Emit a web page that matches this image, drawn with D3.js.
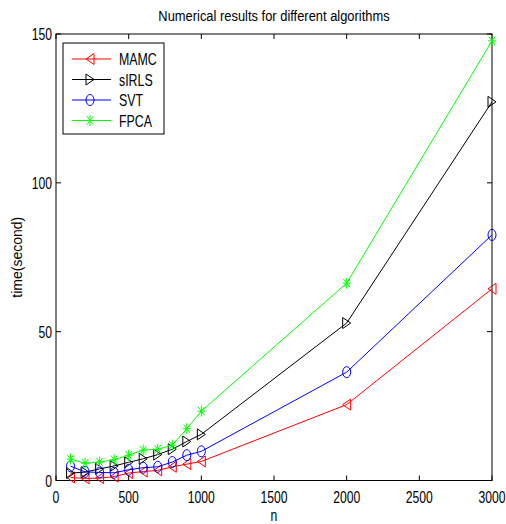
<!DOCTYPE html>
<html>
<head>
<meta charset="utf-8">
<script src="https://cdn.jsdelivr.net/npm/d3@7"></script>
<style>
  html, body { margin: 0; padding: 0; background: #fff; }
  svg { display: block; font-family: "Liberation Sans", Arial, sans-serif; }
</style>
</head>
<body>
<svg id="chart" width="506" height="524"></svg>
<script>
// Problem size n
const sizes = [100, 200, 300, 400, 500, 600, 700, 800, 900, 1000, 2000, 3000];

// Running time (seconds) per algorithm
const mamc  = [1.0, 0.7, 0.8, 1.3, 2.5, 3.0, 3.4, 4.6, 5.5, 6.4, 25.5, 64.4];
const sirls = [2.5, 2.8, 3.9, 4.9, 6.1, 7.3, 8.7, 10.5, 13.1, 15.5, 52.9, 127.2];
const svt   = [4.8, 2.9, 2.7, 2.6, 3.6, 4.3, 4.6, 6.2, 8.5, 9.8, 36.4, 82.5];
const fpca  = [7.2, 5.8, 6.2, 7.0, 8.5, 10.2, 10.5, 11.9, 17.4, 23.3, 66.3, 147.7];

const seriesNames  = ["MAMC", "sIRLS", "SVT", "FPCA"];
const seriesColors = ["#ff0000", "#000000", "#0000ff", "#00ff00"];
const seriesMarks  = ["triLeft", "triRight", "circle", "star"];

const xTicks = [0, 500, 1000, 1500, 2000, 2500, 3000];
const yTicks = [0, 50, 100, 150];

const titleText  = "Numerical results for different algorithms";
const xLabelText = "n";
const yLabelText = "time(second)";

const series = [mamc, sirls, svt, fpca].map((vals, i) => ({
  name: seriesNames[i], color: seriesColors[i], mark: seriesMarks[i],
  points: sizes.map((n, j) => ({ n, t: vals[j] }))
}));

const svg = d3.select("#chart");
const plotL = 56, plotR = 492, plotT = 34, plotB = 480.5;

const x = d3.scaleLinear().domain([0, 3000]).range([plotL, plotR]);
const y = d3.scaleLinear().domain([0, 150]).range([plotB, plotT]);

// Text is drawn horizontally condensed
function label(g, tx, ty, str, size, sx, anchor, rotate) {
  return g.append("text")
    .attr("transform", `translate(${tx},${ty})` + (rotate ? ` rotate(${rotate})` : "") + ` scale(${sx},1)`)
    .attr("text-anchor", anchor)
    .attr("font-size", size)
    .attr("fill", "#000")
    .text(str);
}

// Plot frame
svg.append("rect")
  .attr("x", plotL).attr("y", plotT)
  .attr("width", plotR - plotL).attr("height", plotB - plotT)
  .attr("fill", "#fff").attr("stroke", "#000").attr("stroke-width", 1);

const tickLen = 5;
const ticks = svg.append("g").attr("stroke", "#000").attr("stroke-width", 1);
xTicks.forEach(v => {
  ticks.append("line").attr("x1", x(v)).attr("x2", x(v)).attr("y1", plotB).attr("y2", plotB - tickLen);
  ticks.append("line").attr("x1", x(v)).attr("x2", x(v)).attr("y1", plotT).attr("y2", plotT + tickLen);
});
yTicks.forEach(v => {
  ticks.append("line").attr("x1", plotL).attr("x2", plotL + tickLen).attr("y1", y(v)).attr("y2", y(v));
  ticks.append("line").attr("x1", plotR).attr("x2", plotR - tickLen).attr("y1", y(v)).attr("y2", y(v));
});

const texts = svg.append("g");
xTicks.forEach(v => label(texts, x(v), 503, String(v), 16, 0.76, "middle"));
yTicks.forEach(v => label(texts, plotL - 4, y(v) + 6, String(v), 16, 0.76, "end"));

label(texts, (plotL + plotR) / 2, 21, titleText, 14.5, 0.89, "middle");
label(texts, (plotL + plotR) / 2, 521, xLabelText, 16, 0.76, "middle");
label(texts, 22, (plotT + plotB) / 2, yLabelText, 14, 1.0, "middle", -90);

// Marker shapes
function drawMarker(g, kind, cx, cy, color) {
  const w = 4, h = 5.5;
  if (kind === "circle") {
    g.append("ellipse").attr("cx", cx).attr("cy", cy).attr("rx", w).attr("ry", h)
      .attr("fill", "none").attr("stroke", color).attr("stroke-width", 1);
  } else if (kind === "triLeft") {
    g.append("path").attr("d", `M${cx - w},${cy} L${cx + w},${cy - h} L${cx + w},${cy + h} Z`)
      .attr("fill", "none").attr("stroke", color).attr("stroke-width", 1);
  } else if (kind === "triRight") {
    g.append("path").attr("d", `M${cx + w},${cy} L${cx - w},${cy - h} L${cx - w},${cy + h} Z`)
      .attr("fill", "none").attr("stroke", color).attr("stroke-width", 1);
  } else if (kind === "star") {
    const a = 3.2, b = 4.2;
    g.append("path").attr("d",
      `M${cx - w},${cy} L${cx + w},${cy} M${cx},${cy - h} L${cx},${cy + h} ` +
      `M${cx - a},${cy - b} L${cx + a},${cy + b} M${cx - a},${cy + b} L${cx + a},${cy - b}`)
      .attr("fill", "none").attr("stroke", color).attr("stroke-width", 1);
  }
}

const line = d3.line().x(d => x(d.n)).y(d => y(d.t));
const plot = svg.append("g");
series.forEach(s => {
  plot.append("path").datum(s.points)
    .attr("d", line).attr("fill", "none")
    .attr("stroke", s.color).attr("stroke-width", 1);
  s.points.forEach(p => drawMarker(plot, s.mark, x(p.n), y(p.t), s.color));
});

// Legend
const lg = svg.append("g");
lg.append("rect").attr("x", 63).attr("y", 43).attr("width", 101).attr("height", 91)
  .attr("fill", "#fff").attr("stroke", "#000").attr("stroke-width", 1);
series.forEach((s, i) => {
  const ly = 59 + i * 20.5;
  lg.append("line").attr("x1", 72).attr("x2", 111).attr("y1", ly).attr("y2", ly)
    .attr("stroke", s.color).attr("stroke-width", 1);
  drawMarker(lg, s.mark, 90, ly, s.color);
  label(lg, 119, ly + 6, s.name, 16.5, 0.75, "start");
});
</script>
</body>
</html>
